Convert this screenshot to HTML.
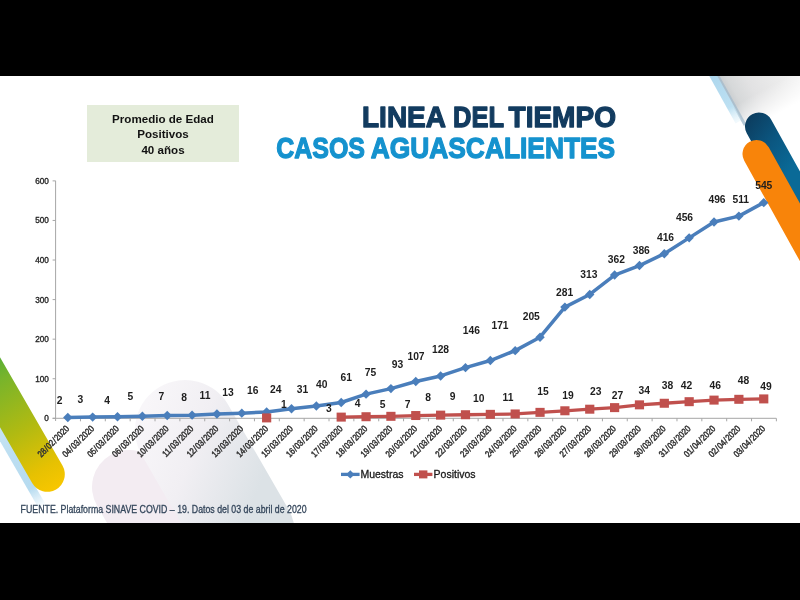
<!DOCTYPE html>
<html><head><meta charset="utf-8"><style>
html,body{margin:0;padding:0;background:#000;width:800px;height:600px;overflow:hidden}
#slide{position:absolute;left:0;top:76px;width:800px;height:447px;background:#fff}
svg{position:absolute;left:0;top:0;font-family:"Liberation Sans",sans-serif;will-change:transform}
</style></head><body>
<div id="slide"></div>
<svg width="800" height="600" viewBox="0 0 800 600">
<defs><clipPath id="slideclip"><rect x="0" y="76" width="800" height="447"/></clipPath></defs>
<g clip-path="url(#slideclip)">

<defs>
 <linearGradient id="gGreen" gradientUnits="userSpaceOnUse" x1="0" y1="-130" x2="0" y2="15">
  <stop offset="0" stop-color="#52ad36"/>
  <stop offset="0.17" stop-color="#78b42b"/>
  <stop offset="0.54" stop-color="#b0ba12"/>
  <stop offset="0.85" stop-color="#e6c102"/>
  <stop offset="1" stop-color="#f6c600"/>
 </linearGradient>
 <linearGradient id="gLB" gradientUnits="userSpaceOnUse" x1="0" y1="-120" x2="0" y2="26">
  <stop offset="0" stop-color="#d6ecf7"/>
  <stop offset="0.6" stop-color="#bcdef1"/>
  <stop offset="0.85" stop-color="#b6dbf0"/>
  <stop offset="1" stop-color="#b6dbf0" stop-opacity="0"/>
 </linearGradient>
 <linearGradient id="gNavy" gradientUnits="userSpaceOnUse" x1="-12" y1="-10" x2="14" y2="50">
  <stop offset="0" stop-color="#0c3d5f"/>
  <stop offset="0.5" stop-color="#0b5680"/>
  <stop offset="1" stop-color="#0a6a97"/>
 </linearGradient>
 <linearGradient id="gShadowX" gradientUnits="userSpaceOnUse" x1="-13" y1="0" x2="72" y2="0">
  <stop offset="0" stop-color="#c6cacd"/>
  <stop offset="0.1" stop-color="#d6d8d9"/>
  <stop offset="0.3" stop-color="#e2e2e3"/>
  <stop offset="0.6" stop-color="#ebebeb"/>
  <stop offset="0.85" stop-color="#f3f3f3"/>
  <stop offset="1" stop-color="#ffffff" stop-opacity="0"/>
 </linearGradient>
 <linearGradient id="gShadowY" gradientUnits="userSpaceOnUse" x1="0" y1="-30" x2="0" y2="-2">
  <stop offset="0" stop-color="#fff"/>
  <stop offset="1" stop-color="#fff" stop-opacity="0"/>
 </linearGradient>
 <mask id="mShadow" maskUnits="userSpaceOnUse" x="-20" y="-100" width="110" height="100"><rect x="-20" y="-100" width="110" height="100" fill="url(#gShadowY)"/></mask>
 <linearGradient id="gLBtop" gradientUnits="userSpaceOnUse" x1="0" y1="-70" x2="0" y2="-14">
  <stop offset="0" stop-color="#acd6ed"/>
  <stop offset="0.7" stop-color="#bde0f2"/>
  <stop offset="1" stop-color="#d8eef8" stop-opacity="0.3"/>
 </linearGradient>
 <linearGradient id="gLav1" gradientUnits="userSpaceOnUse" x1="-35" y1="-30" x2="50" y2="75">
  <stop offset="0" stop-color="#f8f6f9"/>
  <stop offset="0.45" stop-color="#f1eff3"/>
  <stop offset="1" stop-color="#dce2e6"/>
 </linearGradient>
</defs>

<g transform="translate(129,487) rotate(-30)"><rect x="-37" y="-37" width="74" height="200" rx="37" fill="#f3ecf2"/></g>
<g transform="translate(185,430) rotate(-30)"><rect x="-50" y="-50" width="100" height="220" rx="50" fill="url(#gLav1)"/></g>
<g transform="translate(759,126.5) rotate(-29)">
<rect x="-13" y="-95" width="86" height="93" fill="url(#gShadowX)" mask="url(#mShadow)"/>
<rect x="-13" y="-90" width="3" height="82" fill="#9fb9cc" opacity="0.7"/>
<rect x="-19" y="-90" width="7" height="76" fill="url(#gLBtop)"/>
<rect x="-14" y="-14" width="28" height="220" rx="14" fill="url(#gNavy)"/>
</g>
<g transform="translate(756.5,154) rotate(-29)">
<rect x="-14" y="-14" width="28" height="220" rx="14" fill="#f8840a"/>
</g>
<g transform="translate(47.3,474.3) rotate(-30)">
<rect x="-24.5" y="-200" width="8" height="226" fill="url(#gLB)"/>
<rect x="-17.5" y="-200" width="35" height="217.5" rx="17.5" fill="url(#gGreen)"/>
</g>
<rect x="87" y="105" width="152" height="57" fill="#e4ecda"/>
<text x="163" y="122.5" text-anchor="middle" font-size="11.6" font-weight="bold" fill="#121212">Promedio de Edad</text>
<text x="163" y="138" text-anchor="middle" font-size="11.6" font-weight="bold" fill="#121212">Positivos</text>
<text x="163" y="153.5" text-anchor="middle" font-size="11.6" font-weight="bold" fill="#121212">40 años</text>
<text x="362" y="126.9" font-size="30.2" font-weight="bold" fill="#123b5f" stroke="#123b5f" stroke-width="1.3" stroke-linejoin="round" textLength="84" lengthAdjust="spacingAndGlyphs">LINEA</text>
<text x="453" y="126.9" font-size="30.2" font-weight="bold" fill="#123b5f" stroke="#123b5f" stroke-width="1.3" stroke-linejoin="round" textLength="51.0" lengthAdjust="spacingAndGlyphs">DEL</text>
<text x="508.5" y="126.9" font-size="30.2" font-weight="bold" fill="#123b5f" stroke="#123b5f" stroke-width="1.3" stroke-linejoin="round" textLength="107.5" lengthAdjust="spacingAndGlyphs">TIEMPO</text>
<text x="276.25" y="158.4" font-size="30.2" font-weight="bold" fill="#1592ce" stroke="#1592ce" stroke-width="1.3" stroke-linejoin="round" textLength="88.75" lengthAdjust="spacingAndGlyphs">CASOS</text>
<text x="370.7" y="158.4" font-size="30.2" font-weight="bold" fill="#1592ce" stroke="#1592ce" stroke-width="1.3" stroke-linejoin="round" textLength="244.5" lengthAdjust="spacingAndGlyphs">AGUASCALIENTES</text>
<line x1="55.6" y1="180.8" x2="55.6" y2="421" stroke="#a6a6a6" stroke-width="1"/>
<line x1="52.6" y1="418.3" x2="776.3" y2="418.3" stroke="#a6a6a6" stroke-width="1"/>
<line x1="52.6" y1="418.30" x2="55.6" y2="418.30" stroke="#a6a6a6" stroke-width="1"/>
<text x="48.9" y="421.25" text-anchor="end" font-size="8.2" fill="#262626" stroke="#262626" stroke-width="0.35">0</text>
<line x1="52.6" y1="378.73" x2="55.6" y2="378.73" stroke="#a6a6a6" stroke-width="1"/>
<text x="48.9" y="381.68" text-anchor="end" font-size="8.2" fill="#262626" stroke="#262626" stroke-width="0.35">100</text>
<line x1="52.6" y1="339.16" x2="55.6" y2="339.16" stroke="#a6a6a6" stroke-width="1"/>
<text x="48.9" y="342.11" text-anchor="end" font-size="8.2" fill="#262626" stroke="#262626" stroke-width="0.35">200</text>
<line x1="52.6" y1="299.59" x2="55.6" y2="299.59" stroke="#a6a6a6" stroke-width="1"/>
<text x="48.9" y="302.54" text-anchor="end" font-size="8.2" fill="#262626" stroke="#262626" stroke-width="0.35">300</text>
<line x1="52.6" y1="260.02" x2="55.6" y2="260.02" stroke="#a6a6a6" stroke-width="1"/>
<text x="48.9" y="262.97" text-anchor="end" font-size="8.2" fill="#262626" stroke="#262626" stroke-width="0.35">400</text>
<line x1="52.6" y1="220.45" x2="55.6" y2="220.45" stroke="#a6a6a6" stroke-width="1"/>
<text x="48.9" y="223.40" text-anchor="end" font-size="8.2" fill="#262626" stroke="#262626" stroke-width="0.35">500</text>
<line x1="52.6" y1="180.88" x2="55.6" y2="180.88" stroke="#a6a6a6" stroke-width="1"/>
<text x="48.9" y="183.83" text-anchor="end" font-size="8.2" fill="#262626" stroke="#262626" stroke-width="0.35">600</text>
<line x1="80.45" y1="418.3" x2="80.45" y2="421.3" stroke="#a6a6a6" stroke-width="1"/>
<line x1="105.31" y1="418.3" x2="105.31" y2="421.3" stroke="#a6a6a6" stroke-width="1"/>
<line x1="130.16" y1="418.3" x2="130.16" y2="421.3" stroke="#a6a6a6" stroke-width="1"/>
<line x1="155.02" y1="418.3" x2="155.02" y2="421.3" stroke="#a6a6a6" stroke-width="1"/>
<line x1="179.88" y1="418.3" x2="179.88" y2="421.3" stroke="#a6a6a6" stroke-width="1"/>
<line x1="204.73" y1="418.3" x2="204.73" y2="421.3" stroke="#a6a6a6" stroke-width="1"/>
<line x1="229.59" y1="418.3" x2="229.59" y2="421.3" stroke="#a6a6a6" stroke-width="1"/>
<line x1="254.44" y1="418.3" x2="254.44" y2="421.3" stroke="#a6a6a6" stroke-width="1"/>
<line x1="279.30" y1="418.3" x2="279.30" y2="421.3" stroke="#a6a6a6" stroke-width="1"/>
<line x1="304.15" y1="418.3" x2="304.15" y2="421.3" stroke="#a6a6a6" stroke-width="1"/>
<line x1="329.01" y1="418.3" x2="329.01" y2="421.3" stroke="#a6a6a6" stroke-width="1"/>
<line x1="353.86" y1="418.3" x2="353.86" y2="421.3" stroke="#a6a6a6" stroke-width="1"/>
<line x1="378.72" y1="418.3" x2="378.72" y2="421.3" stroke="#a6a6a6" stroke-width="1"/>
<line x1="403.57" y1="418.3" x2="403.57" y2="421.3" stroke="#a6a6a6" stroke-width="1"/>
<line x1="428.43" y1="418.3" x2="428.43" y2="421.3" stroke="#a6a6a6" stroke-width="1"/>
<line x1="453.28" y1="418.3" x2="453.28" y2="421.3" stroke="#a6a6a6" stroke-width="1"/>
<line x1="478.14" y1="418.3" x2="478.14" y2="421.3" stroke="#a6a6a6" stroke-width="1"/>
<line x1="502.99" y1="418.3" x2="502.99" y2="421.3" stroke="#a6a6a6" stroke-width="1"/>
<line x1="527.85" y1="418.3" x2="527.85" y2="421.3" stroke="#a6a6a6" stroke-width="1"/>
<line x1="552.70" y1="418.3" x2="552.70" y2="421.3" stroke="#a6a6a6" stroke-width="1"/>
<line x1="577.56" y1="418.3" x2="577.56" y2="421.3" stroke="#a6a6a6" stroke-width="1"/>
<line x1="602.41" y1="418.3" x2="602.41" y2="421.3" stroke="#a6a6a6" stroke-width="1"/>
<line x1="627.26" y1="418.3" x2="627.26" y2="421.3" stroke="#a6a6a6" stroke-width="1"/>
<line x1="652.12" y1="418.3" x2="652.12" y2="421.3" stroke="#a6a6a6" stroke-width="1"/>
<line x1="676.98" y1="418.3" x2="676.98" y2="421.3" stroke="#a6a6a6" stroke-width="1"/>
<line x1="701.83" y1="418.3" x2="701.83" y2="421.3" stroke="#a6a6a6" stroke-width="1"/>
<line x1="726.69" y1="418.3" x2="726.69" y2="421.3" stroke="#a6a6a6" stroke-width="1"/>
<line x1="751.54" y1="418.3" x2="751.54" y2="421.3" stroke="#a6a6a6" stroke-width="1"/>
<line x1="776.39" y1="418.3" x2="776.39" y2="421.3" stroke="#a6a6a6" stroke-width="1"/>
<text transform="translate(69.80,429.3) rotate(-45) scale(1,1.2)" text-anchor="end" font-size="7.6" fill="#333" stroke="#333" stroke-width="0.4">28<tspan dx="0.6">/</tspan><tspan dx="0.6">02</tspan><tspan dx="0.6">/</tspan><tspan dx="0.6">2020</tspan></text>
<text transform="translate(94.66,429.3) rotate(-45) scale(1,1.2)" text-anchor="end" font-size="7.6" fill="#333" stroke="#333" stroke-width="0.4">04<tspan dx="0.6">/</tspan><tspan dx="0.6">03</tspan><tspan dx="0.6">/</tspan><tspan dx="0.6">2020</tspan></text>
<text transform="translate(119.51,429.3) rotate(-45) scale(1,1.2)" text-anchor="end" font-size="7.6" fill="#333" stroke="#333" stroke-width="0.4">05<tspan dx="0.6">/</tspan><tspan dx="0.6">03</tspan><tspan dx="0.6">/</tspan><tspan dx="0.6">2020</tspan></text>
<text transform="translate(144.37,429.3) rotate(-45) scale(1,1.2)" text-anchor="end" font-size="7.6" fill="#333" stroke="#333" stroke-width="0.4">06<tspan dx="0.6">/</tspan><tspan dx="0.6">03</tspan><tspan dx="0.6">/</tspan><tspan dx="0.6">2020</tspan></text>
<text transform="translate(169.22,429.3) rotate(-45) scale(1,1.2)" text-anchor="end" font-size="7.6" fill="#333" stroke="#333" stroke-width="0.4">10<tspan dx="0.6">/</tspan><tspan dx="0.6">03</tspan><tspan dx="0.6">/</tspan><tspan dx="0.6">2020</tspan></text>
<text transform="translate(194.07,429.3) rotate(-45) scale(1,1.2)" text-anchor="end" font-size="7.6" fill="#333" stroke="#333" stroke-width="0.4">11<tspan dx="0.6">/</tspan><tspan dx="0.6">03</tspan><tspan dx="0.6">/</tspan><tspan dx="0.6">2020</tspan></text>
<text transform="translate(218.93,429.3) rotate(-45) scale(1,1.2)" text-anchor="end" font-size="7.6" fill="#333" stroke="#333" stroke-width="0.4">12<tspan dx="0.6">/</tspan><tspan dx="0.6">03</tspan><tspan dx="0.6">/</tspan><tspan dx="0.6">2020</tspan></text>
<text transform="translate(243.79,429.3) rotate(-45) scale(1,1.2)" text-anchor="end" font-size="7.6" fill="#333" stroke="#333" stroke-width="0.4">13<tspan dx="0.6">/</tspan><tspan dx="0.6">03</tspan><tspan dx="0.6">/</tspan><tspan dx="0.6">2020</tspan></text>
<text transform="translate(268.64,429.3) rotate(-45) scale(1,1.2)" text-anchor="end" font-size="7.6" fill="#333" stroke="#333" stroke-width="0.4">14<tspan dx="0.6">/</tspan><tspan dx="0.6">03</tspan><tspan dx="0.6">/</tspan><tspan dx="0.6">2020</tspan></text>
<text transform="translate(293.50,429.3) rotate(-45) scale(1,1.2)" text-anchor="end" font-size="7.6" fill="#333" stroke="#333" stroke-width="0.4">15<tspan dx="0.6">/</tspan><tspan dx="0.6">03</tspan><tspan dx="0.6">/</tspan><tspan dx="0.6">2020</tspan></text>
<text transform="translate(318.35,429.3) rotate(-45) scale(1,1.2)" text-anchor="end" font-size="7.6" fill="#333" stroke="#333" stroke-width="0.4">16<tspan dx="0.6">/</tspan><tspan dx="0.6">03</tspan><tspan dx="0.6">/</tspan><tspan dx="0.6">2020</tspan></text>
<text transform="translate(343.21,429.3) rotate(-45) scale(1,1.2)" text-anchor="end" font-size="7.6" fill="#333" stroke="#333" stroke-width="0.4">17<tspan dx="0.6">/</tspan><tspan dx="0.6">03</tspan><tspan dx="0.6">/</tspan><tspan dx="0.6">2020</tspan></text>
<text transform="translate(368.06,429.3) rotate(-45) scale(1,1.2)" text-anchor="end" font-size="7.6" fill="#333" stroke="#333" stroke-width="0.4">18<tspan dx="0.6">/</tspan><tspan dx="0.6">03</tspan><tspan dx="0.6">/</tspan><tspan dx="0.6">2020</tspan></text>
<text transform="translate(392.92,429.3) rotate(-45) scale(1,1.2)" text-anchor="end" font-size="7.6" fill="#333" stroke="#333" stroke-width="0.4">19<tspan dx="0.6">/</tspan><tspan dx="0.6">03</tspan><tspan dx="0.6">/</tspan><tspan dx="0.6">2020</tspan></text>
<text transform="translate(417.77,429.3) rotate(-45) scale(1,1.2)" text-anchor="end" font-size="7.6" fill="#333" stroke="#333" stroke-width="0.4">20<tspan dx="0.6">/</tspan><tspan dx="0.6">03</tspan><tspan dx="0.6">/</tspan><tspan dx="0.6">2020</tspan></text>
<text transform="translate(442.62,429.3) rotate(-45) scale(1,1.2)" text-anchor="end" font-size="7.6" fill="#333" stroke="#333" stroke-width="0.4">21<tspan dx="0.6">/</tspan><tspan dx="0.6">03</tspan><tspan dx="0.6">/</tspan><tspan dx="0.6">2020</tspan></text>
<text transform="translate(467.48,429.3) rotate(-45) scale(1,1.2)" text-anchor="end" font-size="7.6" fill="#333" stroke="#333" stroke-width="0.4">22<tspan dx="0.6">/</tspan><tspan dx="0.6">03</tspan><tspan dx="0.6">/</tspan><tspan dx="0.6">2020</tspan></text>
<text transform="translate(492.34,429.3) rotate(-45) scale(1,1.2)" text-anchor="end" font-size="7.6" fill="#333" stroke="#333" stroke-width="0.4">23<tspan dx="0.6">/</tspan><tspan dx="0.6">03</tspan><tspan dx="0.6">/</tspan><tspan dx="0.6">2020</tspan></text>
<text transform="translate(517.19,429.3) rotate(-45) scale(1,1.2)" text-anchor="end" font-size="7.6" fill="#333" stroke="#333" stroke-width="0.4">24<tspan dx="0.6">/</tspan><tspan dx="0.6">03</tspan><tspan dx="0.6">/</tspan><tspan dx="0.6">2020</tspan></text>
<text transform="translate(542.04,429.3) rotate(-45) scale(1,1.2)" text-anchor="end" font-size="7.6" fill="#333" stroke="#333" stroke-width="0.4">25<tspan dx="0.6">/</tspan><tspan dx="0.6">03</tspan><tspan dx="0.6">/</tspan><tspan dx="0.6">2020</tspan></text>
<text transform="translate(566.90,429.3) rotate(-45) scale(1,1.2)" text-anchor="end" font-size="7.6" fill="#333" stroke="#333" stroke-width="0.4">26<tspan dx="0.6">/</tspan><tspan dx="0.6">03</tspan><tspan dx="0.6">/</tspan><tspan dx="0.6">2020</tspan></text>
<text transform="translate(591.75,429.3) rotate(-45) scale(1,1.2)" text-anchor="end" font-size="7.6" fill="#333" stroke="#333" stroke-width="0.4">27<tspan dx="0.6">/</tspan><tspan dx="0.6">03</tspan><tspan dx="0.6">/</tspan><tspan dx="0.6">2020</tspan></text>
<text transform="translate(616.61,429.3) rotate(-45) scale(1,1.2)" text-anchor="end" font-size="7.6" fill="#333" stroke="#333" stroke-width="0.4">28<tspan dx="0.6">/</tspan><tspan dx="0.6">03</tspan><tspan dx="0.6">/</tspan><tspan dx="0.6">2020</tspan></text>
<text transform="translate(641.46,429.3) rotate(-45) scale(1,1.2)" text-anchor="end" font-size="7.6" fill="#333" stroke="#333" stroke-width="0.4">29<tspan dx="0.6">/</tspan><tspan dx="0.6">03</tspan><tspan dx="0.6">/</tspan><tspan dx="0.6">2020</tspan></text>
<text transform="translate(666.32,429.3) rotate(-45) scale(1,1.2)" text-anchor="end" font-size="7.6" fill="#333" stroke="#333" stroke-width="0.4">30<tspan dx="0.6">/</tspan><tspan dx="0.6">03</tspan><tspan dx="0.6">/</tspan><tspan dx="0.6">2020</tspan></text>
<text transform="translate(691.17,429.3) rotate(-45) scale(1,1.2)" text-anchor="end" font-size="7.6" fill="#333" stroke="#333" stroke-width="0.4">31<tspan dx="0.6">/</tspan><tspan dx="0.6">03</tspan><tspan dx="0.6">/</tspan><tspan dx="0.6">2020</tspan></text>
<text transform="translate(716.03,429.3) rotate(-45) scale(1,1.2)" text-anchor="end" font-size="7.6" fill="#333" stroke="#333" stroke-width="0.4">01<tspan dx="0.6">/</tspan><tspan dx="0.6">04</tspan><tspan dx="0.6">/</tspan><tspan dx="0.6">2020</tspan></text>
<text transform="translate(740.88,429.3) rotate(-45) scale(1,1.2)" text-anchor="end" font-size="7.6" fill="#333" stroke="#333" stroke-width="0.4">02<tspan dx="0.6">/</tspan><tspan dx="0.6">04</tspan><tspan dx="0.6">/</tspan><tspan dx="0.6">2020</tspan></text>
<text transform="translate(765.74,429.3) rotate(-45) scale(1,1.2)" text-anchor="end" font-size="7.6" fill="#333" stroke="#333" stroke-width="0.4">03<tspan dx="0.6">/</tspan><tspan dx="0.6">04</tspan><tspan dx="0.6">/</tspan><tspan dx="0.6">2020</tspan></text>
<polyline points="67.80,417.51 92.66,417.11 117.51,416.72 142.37,416.32 167.22,415.53 192.07,415.13 216.93,413.95 241.79,413.16 266.64,411.97 291.50,408.80 316.35,406.03 341.21,402.47 366.06,394.16 390.92,388.62 415.77,381.50 440.62,375.96 465.48,367.65 490.34,360.53 515.19,350.64 540.04,337.18 564.90,307.11 589.75,294.45 614.61,275.06 639.46,265.56 664.32,253.69 689.17,237.86 714.03,222.03 738.88,216.10 763.74,202.64" fill="none" stroke="#4a7ebb" stroke-width="3.5" stroke-linejoin="round"/>
<polygon points="67.80,412.81 72.50,417.51 67.80,422.21 63.10,417.51" fill="#4a7ebb"/>
<polygon points="92.66,412.41 97.36,417.11 92.66,421.81 87.95,417.11" fill="#4a7ebb"/>
<polygon points="117.51,412.02 122.21,416.72 117.51,421.42 112.81,416.72" fill="#4a7ebb"/>
<polygon points="142.37,411.62 147.06,416.32 142.37,421.02 137.67,416.32" fill="#4a7ebb"/>
<polygon points="167.22,410.83 171.92,415.53 167.22,420.23 162.52,415.53" fill="#4a7ebb"/>
<polygon points="192.07,410.43 196.77,415.13 192.07,419.83 187.38,415.13" fill="#4a7ebb"/>
<polygon points="216.93,409.25 221.63,413.95 216.93,418.65 212.23,413.95" fill="#4a7ebb"/>
<polygon points="241.79,408.46 246.49,413.16 241.79,417.86 237.09,413.16" fill="#4a7ebb"/>
<polygon points="266.64,407.27 271.34,411.97 266.64,416.67 261.94,411.97" fill="#4a7ebb"/>
<polygon points="291.50,404.10 296.19,408.80 291.50,413.50 286.80,408.80" fill="#4a7ebb"/>
<polygon points="316.35,401.33 321.05,406.03 316.35,410.73 311.65,406.03" fill="#4a7ebb"/>
<polygon points="341.21,397.77 345.91,402.47 341.21,407.17 336.51,402.47" fill="#4a7ebb"/>
<polygon points="366.06,389.46 370.76,394.16 366.06,398.86 361.36,394.16" fill="#4a7ebb"/>
<polygon points="390.92,383.92 395.62,388.62 390.92,393.32 386.22,388.62" fill="#4a7ebb"/>
<polygon points="415.77,376.80 420.47,381.50 415.77,386.20 411.07,381.50" fill="#4a7ebb"/>
<polygon points="440.62,371.26 445.32,375.96 440.62,380.66 435.93,375.96" fill="#4a7ebb"/>
<polygon points="465.48,362.95 470.18,367.65 465.48,372.35 460.78,367.65" fill="#4a7ebb"/>
<polygon points="490.34,355.83 495.04,360.53 490.34,365.23 485.64,360.53" fill="#4a7ebb"/>
<polygon points="515.19,345.94 519.89,350.64 515.19,355.34 510.49,350.64" fill="#4a7ebb"/>
<polygon points="540.04,332.48 544.75,337.18 540.04,341.88 535.34,337.18" fill="#4a7ebb"/>
<polygon points="564.90,302.41 569.60,307.11 564.90,311.81 560.20,307.11" fill="#4a7ebb"/>
<polygon points="589.75,289.75 594.46,294.45 589.75,299.15 585.05,294.45" fill="#4a7ebb"/>
<polygon points="614.61,270.36 619.31,275.06 614.61,279.76 609.91,275.06" fill="#4a7ebb"/>
<polygon points="639.46,260.86 644.16,265.56 639.46,270.26 634.76,265.56" fill="#4a7ebb"/>
<polygon points="664.32,248.99 669.02,253.69 664.32,258.39 659.62,253.69" fill="#4a7ebb"/>
<polygon points="689.17,233.16 693.88,237.86 689.17,242.56 684.47,237.86" fill="#4a7ebb"/>
<polygon points="714.03,217.33 718.73,222.03 714.03,226.73 709.33,222.03" fill="#4a7ebb"/>
<polygon points="738.88,211.40 743.59,216.10 738.88,220.80 734.18,216.10" fill="#4a7ebb"/>
<polygon points="763.74,197.94 768.44,202.64 763.74,207.34 759.04,202.64" fill="#4a7ebb"/>
<polyline points="341.21,417.11 366.06,416.72 390.92,416.32 415.77,415.53 440.62,415.13 465.48,414.74 490.34,414.34 515.19,413.95 540.04,412.36 564.90,410.78 589.75,409.20 614.61,407.62 639.46,404.85 664.32,403.26 689.17,401.68 714.03,400.10 738.88,399.31 763.74,398.91" fill="none" stroke="#c0504d" stroke-width="3.3" stroke-linejoin="round"/>
<rect x="262.04" y="413.40" width="9.2" height="9" fill="#c0504d"/>
<rect x="336.61" y="412.61" width="9.2" height="9" fill="#c0504d"/>
<rect x="361.46" y="412.22" width="9.2" height="9" fill="#c0504d"/>
<rect x="386.31" y="411.82" width="9.2" height="9" fill="#c0504d"/>
<rect x="411.17" y="411.03" width="9.2" height="9" fill="#c0504d"/>
<rect x="436.02" y="410.63" width="9.2" height="9" fill="#c0504d"/>
<rect x="460.88" y="410.24" width="9.2" height="9" fill="#c0504d"/>
<rect x="485.74" y="409.84" width="9.2" height="9" fill="#c0504d"/>
<rect x="510.59" y="409.45" width="9.2" height="9" fill="#c0504d"/>
<rect x="535.44" y="407.86" width="9.2" height="9" fill="#c0504d"/>
<rect x="560.30" y="406.28" width="9.2" height="9" fill="#c0504d"/>
<rect x="585.15" y="404.70" width="9.2" height="9" fill="#c0504d"/>
<rect x="610.01" y="403.12" width="9.2" height="9" fill="#c0504d"/>
<rect x="634.86" y="400.35" width="9.2" height="9" fill="#c0504d"/>
<rect x="659.72" y="398.76" width="9.2" height="9" fill="#c0504d"/>
<rect x="684.57" y="397.18" width="9.2" height="9" fill="#c0504d"/>
<rect x="709.43" y="395.60" width="9.2" height="9" fill="#c0504d"/>
<rect x="734.28" y="394.81" width="9.2" height="9" fill="#c0504d"/>
<rect x="759.14" y="394.41" width="9.2" height="9" fill="#c0504d"/>
<text x="59.5" y="404.20" text-anchor="middle" font-size="10.3" font-weight="bold" fill="#1e1e1e">2</text>
<text x="80.4" y="402.60" text-anchor="middle" font-size="10.3" font-weight="bold" fill="#1e1e1e">3</text>
<text x="107.1" y="403.50" text-anchor="middle" font-size="10.3" font-weight="bold" fill="#1e1e1e">4</text>
<text x="130.3" y="400.10" text-anchor="middle" font-size="10.3" font-weight="bold" fill="#1e1e1e">5</text>
<text x="161.4" y="400.40" text-anchor="middle" font-size="10.3" font-weight="bold" fill="#1e1e1e">7</text>
<text x="184" y="400.60" text-anchor="middle" font-size="10.3" font-weight="bold" fill="#1e1e1e">8</text>
<text x="205" y="399.30" text-anchor="middle" font-size="10.3" font-weight="bold" fill="#1e1e1e">11</text>
<text x="228" y="395.80" text-anchor="middle" font-size="10.3" font-weight="bold" fill="#1e1e1e">13</text>
<text x="252.8" y="394.30" text-anchor="middle" font-size="10.3" font-weight="bold" fill="#1e1e1e">16</text>
<text x="275.75" y="393.10" text-anchor="middle" font-size="10.3" font-weight="bold" fill="#1e1e1e">24</text>
<text x="302.5" y="393.10" text-anchor="middle" font-size="10.3" font-weight="bold" fill="#1e1e1e">31</text>
<text x="321.75" y="388.10" text-anchor="middle" font-size="10.3" font-weight="bold" fill="#1e1e1e">40</text>
<text x="346.25" y="381.10" text-anchor="middle" font-size="10.3" font-weight="bold" fill="#1e1e1e">61</text>
<text x="370.5" y="375.60" text-anchor="middle" font-size="10.3" font-weight="bold" fill="#1e1e1e">75</text>
<text x="397.5" y="368.10" text-anchor="middle" font-size="10.3" font-weight="bold" fill="#1e1e1e">93</text>
<text x="416" y="359.60" text-anchor="middle" font-size="10.3" font-weight="bold" fill="#1e1e1e">107</text>
<text x="440.5" y="352.60" text-anchor="middle" font-size="10.3" font-weight="bold" fill="#1e1e1e">128</text>
<text x="471.3" y="333.60" text-anchor="middle" font-size="10.3" font-weight="bold" fill="#1e1e1e">146</text>
<text x="500" y="328.60" text-anchor="middle" font-size="10.3" font-weight="bold" fill="#1e1e1e">171</text>
<text x="531.25" y="319.85" text-anchor="middle" font-size="10.3" font-weight="bold" fill="#1e1e1e">205</text>
<text x="564.6" y="296.40" text-anchor="middle" font-size="10.3" font-weight="bold" fill="#1e1e1e">281</text>
<text x="588.9" y="277.60" text-anchor="middle" font-size="10.3" font-weight="bold" fill="#1e1e1e">313</text>
<text x="616.3" y="263.40" text-anchor="middle" font-size="10.3" font-weight="bold" fill="#1e1e1e">362</text>
<text x="641.25" y="254.10" text-anchor="middle" font-size="10.3" font-weight="bold" fill="#1e1e1e">386</text>
<text x="665.5" y="240.60" text-anchor="middle" font-size="10.3" font-weight="bold" fill="#1e1e1e">416</text>
<text x="684.5" y="221.10" text-anchor="middle" font-size="10.3" font-weight="bold" fill="#1e1e1e">456</text>
<text x="717" y="203.10" text-anchor="middle" font-size="10.3" font-weight="bold" fill="#1e1e1e">496</text>
<text x="740.75" y="203.10" text-anchor="middle" font-size="10.3" font-weight="bold" fill="#1e1e1e">511</text>
<text x="763.75" y="188.60" text-anchor="middle" font-size="10.3" font-weight="bold" fill="#1e1e1e">545</text>
<text x="283.75" y="408.10" text-anchor="middle" font-size="10.3" font-weight="bold" fill="#1e1e1e">1</text>
<text x="328.75" y="411.60" text-anchor="middle" font-size="10.3" font-weight="bold" fill="#1e1e1e">3</text>
<text x="357.5" y="406.85" text-anchor="middle" font-size="10.3" font-weight="bold" fill="#1e1e1e">4</text>
<text x="382.5" y="408.10" text-anchor="middle" font-size="10.3" font-weight="bold" fill="#1e1e1e">5</text>
<text x="407.5" y="408.10" text-anchor="middle" font-size="10.3" font-weight="bold" fill="#1e1e1e">7</text>
<text x="428" y="400.60" text-anchor="middle" font-size="10.3" font-weight="bold" fill="#1e1e1e">8</text>
<text x="452.5" y="399.85" text-anchor="middle" font-size="10.3" font-weight="bold" fill="#1e1e1e">9</text>
<text x="478.75" y="401.60" text-anchor="middle" font-size="10.3" font-weight="bold" fill="#1e1e1e">10</text>
<text x="508" y="400.60" text-anchor="middle" font-size="10.3" font-weight="bold" fill="#1e1e1e">11</text>
<text x="543" y="394.85" text-anchor="middle" font-size="10.3" font-weight="bold" fill="#1e1e1e">15</text>
<text x="568" y="398.60" text-anchor="middle" font-size="10.3" font-weight="bold" fill="#1e1e1e">19</text>
<text x="595.75" y="394.85" text-anchor="middle" font-size="10.3" font-weight="bold" fill="#1e1e1e">23</text>
<text x="617.5" y="398.80" text-anchor="middle" font-size="10.3" font-weight="bold" fill="#1e1e1e">27</text>
<text x="644.3" y="394.30" text-anchor="middle" font-size="10.3" font-weight="bold" fill="#1e1e1e">34</text>
<text x="667.5" y="389.35" text-anchor="middle" font-size="10.3" font-weight="bold" fill="#1e1e1e">38</text>
<text x="686.6" y="389.35" text-anchor="middle" font-size="10.3" font-weight="bold" fill="#1e1e1e">42</text>
<text x="715.2" y="389.35" text-anchor="middle" font-size="10.3" font-weight="bold" fill="#1e1e1e">46</text>
<text x="743.6" y="384.40" text-anchor="middle" font-size="10.3" font-weight="bold" fill="#1e1e1e">48</text>
<text x="766" y="389.80" text-anchor="middle" font-size="10.3" font-weight="bold" fill="#1e1e1e">49</text>
<line x1="341" y1="474.4" x2="359.6" y2="474.4" stroke="#4a7ebb" stroke-width="3.3"/>
<polygon points="350.3,470.2 354.5,474.4 350.3,478.6 346.1,474.4" fill="#4a7ebb"/>
<text x="360.4" y="478" font-size="10.5" fill="#1a1a1a" stroke="#1a1a1a" stroke-width="0.3">Muestras</text>
<line x1="414" y1="474.4" x2="432.4" y2="474.4" stroke="#c0504d" stroke-width="3.3"/>
<rect x="419" y="470.4" width="8.4" height="8" fill="#c0504d"/>
<text x="433.6" y="478" font-size="10.5" fill="#1a1a1a" stroke="#1a1a1a" stroke-width="0.3">Positivos</text>
<text x="20.6" y="513" font-size="10.6" fill="#34465b" stroke="#34465b" stroke-width="0.3" textLength="286" lengthAdjust="spacingAndGlyphs">FUENTE. Plataforma SINAVE COVID – 19. Datos del 03 de abril de 2020</text>
</g>
</svg>
</body></html>
